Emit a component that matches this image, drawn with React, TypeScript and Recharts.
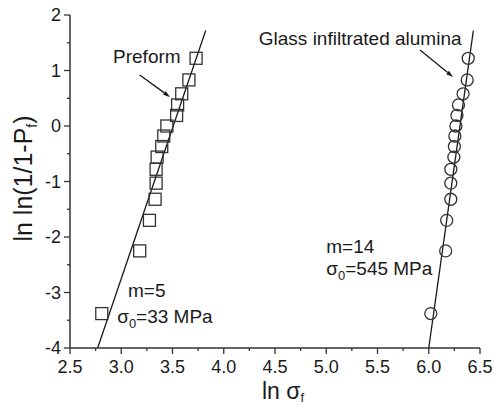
import React from 'react';
import { ScatterChart, Scatter, XAxis, YAxis, ReferenceLine, ReferenceDot, Label } from 'recharts';

// ln ln(1/(1-Pf)) values (shared rank positions)
const lnlnY = [-3.38, -2.25, -1.70, -1.32, -1.03, -0.78, -0.56, -0.37, -0.18, 0.0, 0.19, 0.38, 0.58, 0.83, 1.22];
// ln sigma_f for the preform (squares)
const preformX = [2.81, 3.18, 3.275, 3.33, 3.34, 3.34, 3.35, 3.395, 3.415, 3.445, 3.54, 3.55, 3.59, 3.66, 3.73];
// ln sigma_f for glass infiltrated alumina (circles)
const aluminaX = [6.02, 6.165, 6.175, 6.215, 6.215, 6.215, 6.245, 6.25, 6.255, 6.265, 6.275, 6.29, 6.335, 6.375, 6.385];

// fitted Weibull lines (end points)
const preformFitX = [2.77, 3.824];
const preformFitY = [-4, 1.72];
const aluminaFitX = [6.0, 6.435];
const aluminaFitY = [-4, 1.72];

const xTicks = [2.5, 2.75, 3.0, 3.25, 3.5, 3.75, 4.0, 4.25, 4.5, 4.75, 5.0, 5.25, 5.5, 5.75, 6.0, 6.25, 6.5];
const yTicks = [-4, -3.5, -3, -2.5, -2, -1.5, -1, -0.5, 0, 0.5, 1, 1.5, 2];

const FONT = '"Liberation Sans", Arial, Helvetica, sans-serif';
const INK = '#1a1a1a';
const AXIS = '#333';

const preformData = preformX.map((x, i) => ({ x, y: lnlnY[i] }));
const aluminaData = aluminaX.map((x, i) => ({ x, y: lnlnY[i] }));
const preformFit = preformFitX.map((x, i) => ({ x, y: preformFitY[i] }));
const aluminaFit = aluminaFitX.map((x, i) => ({ x, y: aluminaFitY[i] }));

const isMajorX = (v: number) => Math.abs(v * 2 - Math.round(v * 2)) < 1e-6;
const isMajorY = (v: number) => Math.abs(v - Math.round(v)) < 1e-6;

const XTick = (props: any) => {
  const { x, y, payload } = props;
  const v = payload.value as number;
  const major = isMajorX(v);
  return (
    <g>
      <line x1={x} x2={x} y1={y} y2={y + (major ? 6 : 3)} stroke={AXIS} strokeWidth={1.3} />
      {major && (
        <text x={x} y={y + 25} textAnchor="middle" fontSize={18} fontFamily={FONT} fill={INK}>
          {v.toFixed(1)}
        </text>
      )}
    </g>
  );
};

const YTick = (props: any) => {
  const { x, y, payload } = props;
  const v = payload.value as number;
  const major = isMajorY(v);
  return (
    <g>
      <line x1={x} x2={x - (major ? 6 : 3)} y1={y} y2={y} stroke={AXIS} strokeWidth={1.3} />
      {major && (
        <text x={x - 9} y={y} dy="0.36em" textAnchor="end" fontSize={18} fontFamily={FONT} fill={INK}>
          {String(v)}
        </text>
      )}
    </g>
  );
};

const Square = (props: any) => {
  const { cx, cy } = props;
  return <rect x={cx - 6} y={cy - 6} width={12} height={12} fill="none" stroke="#333" strokeWidth={1.3} />;
};
const Ring = (props: any) => {
  const { cx, cy } = props;
  return <circle cx={cx} cy={cy} r={6} fill="none" stroke="#333" strokeWidth={1.3} />;
};
const NoShape = () => <g />;

const Arrow = (props: any) => {
  const { x1, y1, x2, y2 } = props;
  const ang = Math.atan2(y2 - y1, x2 - x1);
  const L = 7, W = 2.2;
  const bx = x2 - L * Math.cos(ang), by = y2 - L * Math.sin(ang);
  const px = -Math.sin(ang) * W, py = Math.cos(ang) * W;
  return (
    <g>
      <line x1={x1} y1={y1} x2={bx} y2={by} stroke={INK} strokeWidth={1.3} />
      <polygon points={`${x2},${y2} ${bx + px},${by + py} ${bx - px},${by - py}`} fill={INK} />
    </g>
  );
};

const textShape = (content: React.ReactNode, anchor: string = 'start') => (p: any) => (
  <text x={p.cx} y={p.cy} textAnchor={anchor} fontSize={19} fontFamily={FONT} fill={INK}>
    {content}
  </text>
);

const XLabel = (props: any) => {
  const vb = props.viewBox;
  return (
    <text x={vb.x + vb.width / 2 + 8} y={vb.y + 51} textAnchor="middle" fontSize={23} fontFamily={FONT} fill={INK}>
      ln σ<tspan fontSize={13} dy={3}>f</tspan>
    </text>
  );
};

const YLabel = (props: any) => {
  const vb = props.viewBox;
  const cx = vb.x + 23;
  const cy = vb.y + vb.height / 2 - 3;
  return (
    <text x={cx} y={cy} transform={`rotate(-90 ${cx} ${cy})`} dy="0.36em" textAnchor="middle" fontSize={25} fontFamily={FONT} fill={INK}>
      ln ln(1/1-P<tspan fontSize={14} dy={5}>f</tspan><tspan dy={-5}>)</tspan>
    </text>
  );
};

export default function App() {
  return (
    <div style={{ position: 'absolute', left: 0, top: 0, background: '#fff' }}>
      <ScatterChart width={494} height={405} margin={{ top: 15, right: 14, bottom: 0, left: 0 }}>
        <XAxis
          type="number"
          dataKey="x"
          domain={[2.5, 6.5]}
          ticks={xTicks}
          interval={0}
          tickLine={false}
          tickSize={0}
          tickMargin={0}
          tick={<XTick />}
          height={57}
          stroke={AXIS}
          strokeWidth={1.5}
          allowDataOverflow
        >
          <Label content={<XLabel />} />
        </XAxis>
        <YAxis
          type="number"
          dataKey="y"
          domain={[-4, 2]}
          ticks={yTicks}
          interval={0}
          tickLine={false}
          tickSize={0}
          tickMargin={0}
          tick={<YTick />}
          width={70}
          stroke={AXIS}
          strokeWidth={1.5}
          allowDataOverflow
        >
          <Label content={<YLabel />} />
        </YAxis>
        <XAxis xAxisId="top" orientation="top" type="number" domain={[2.5, 6.5]} tick={false} tickLine={false} height={0} stroke={AXIS} strokeWidth={1.5} />
        <YAxis yAxisId="right" orientation="right" type="number" domain={[-4, 2]} tick={false} tickLine={false} width={0} stroke={AXIS} strokeWidth={1.5} />

        <Scatter data={preformFit} line={{ stroke: INK, strokeWidth: 1.3 }} shape={<NoShape />} isAnimationActive={false} legendType="none" />
        <Scatter data={aluminaFit} line={{ stroke: INK, strokeWidth: 1.3 }} shape={<NoShape />} isAnimationActive={false} legendType="none" />
        <Scatter data={preformData} shape={<Square />} isAnimationActive={false} />
        <Scatter data={aluminaData} shape={<Ring />} isAnimationActive={false} />

        <ReferenceLine segment={[{ x: 3.18, y: 0.92 }, { x: 3.476, y: 0.523 }]} shape={<Arrow />} ifOverflow="visible" />
        <ReferenceLine segment={[{ x: 5.915, y: 1.37 }, { x: 6.237, y: 0.883 }]} shape={<Arrow />} ifOverflow="visible" />

        <ReferenceDot x={2.92} y={1.135} r={0} shape={textShape('Preform')} ifOverflow="visible" />
        <ReferenceDot x={6.32} y={1.46} r={0} shape={textShape('Glass infiltrated alumina', 'end')} ifOverflow="visible" />
        <ReferenceDot x={3.066} y={-3.08} r={0} shape={textShape('m=5')} ifOverflow="visible" />
        <ReferenceDot x={2.96} y={-3.55} r={0} shape={textShape(<>σ<tspan fontSize={13} dy={5}>0</tspan><tspan dy={-5}>=33 MPa</tspan></>)} ifOverflow="visible" />
        <ReferenceDot x={5.0} y={-2.29} r={0} shape={textShape('m=14')} ifOverflow="visible" />
        <ReferenceDot x={5.0} y={-2.68} r={0} shape={textShape(<>σ<tspan fontSize={13} dy={5}>0</tspan><tspan dy={-5}>=545 MPa</tspan></>)} ifOverflow="visible" />
      </ScatterChart>
    </div>
  );
}
